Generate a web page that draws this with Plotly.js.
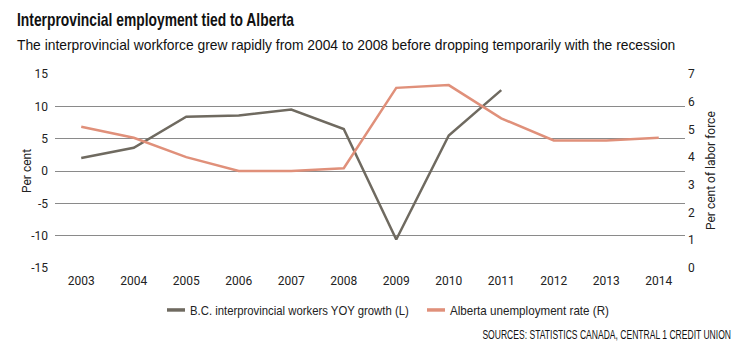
<!DOCTYPE html>
<html>
<head>
<meta charset="utf-8">
<script src="https://cdn.plot.ly/plotly-3.0.1.min.js"></script>
<style>
html,body{margin:0;padding:0;background:#fff;}
#chart{width:737px;height:344px;}
</style>
</head>
<body>
<div id="chart"></div>
<script>
const years = ["2003","2004","2005","2006","2007","2008","2009","2010","2011","2012","2013","2014"];
const bcGrowthYears = ["2003","2004","2005","2006","2007","2008","2009","2010","2011"];
const bcGrowth = [2.0, 3.6, 8.4, 8.6, 9.5, 6.5, -10.6, 5.5, 12.5];
const abUnemployment = [5.1, 4.7, 4.0, 3.5, 3.5, 3.6, 6.5, 6.6, 5.4, 4.6, 4.6, 4.7];
const leftTicks = [-15, -10, -5, 0, 5, 10, 15];
const rightTicks = [0, 1, 2, 3, 4, 5, 6, 7];

const narrow = '"Liberation Sans", Arial, sans-serif';
const tickFont = {family: 'Roboto, "DejaVu Sans", sans-serif', size: 12, color: '#222'};

const traces = [
  {
    x: bcGrowthYears, y: bcGrowth, type: 'scatter', mode: 'lines',
    name: 'B.C. interprovincial workers YOY growth (L)',
    line: {color: '#6f6a60', width: 2.5}, yaxis: 'y'
  },
  {
    x: years, y: abUnemployment, type: 'scatter', mode: 'lines',
    name: 'Alberta unemployment rate (R)',
    line: {color: '#e0907a', width: 2.5}, yaxis: 'y2'
  }
];

const pw = 737 - 55 - 52, ph = 344 - 74 - 76;
function px(x){ return (x - 55) / pw; }
function py(y){ return (344 - 76 - y) / ph; }

const layout = {
  width: 737, height: 344,
  margin: {l: 55, r: 52, t: 74, b: 76},
  paper_bgcolor: '#fff', plot_bgcolor: '#fff',
  showlegend: true,
  legend: {
    orientation: 'h', x: px(150), xanchor: 'left', y: py(295), yanchor: 'top',
    font: {family: narrow, size: 13, color: '#222'}, traceorder: 'normal'
  },
  xaxis: {
    type: 'category', categoryorder: 'array', categoryarray: years,
    range: [-0.5, 11.5], showgrid: false, zeroline: false, showline: false,
    ticks: '', tickfont: tickFont, ticklabelstandoff: 4
  },
  yaxis: {
    range: [-15, 15], tickvals: leftTicks, ticktext: leftTicks.map(String),
    showgrid: true, gridcolor: '#8a8a8a', gridwidth: 1, zeroline: false,
    ticks: '', tickfont: tickFont, ticklabelstandoff: 6
  },
  yaxis2: {
    overlaying: 'y', side: 'right', range: [0, 7],
    tickvals: rightTicks, ticktext: rightTicks.map(String),
    showgrid: false, zeroline: false, ticks: '', tickfont: tickFont, ticklabelstandoff: 2
  },
  annotations: [
    {text: '<b>Interprovincial employment tied to Alberta</b>', xref: 'paper', yref: 'paper',
     x: px(17), y: py(20), xanchor: 'left', yanchor: 'middle', showarrow: false,
     font: {family: narrow, size: 18, color: '#111'}},
    {text: 'The interprovincial workforce grew rapidly from 2004 to 2008 before dropping temporarily with the recession',
     xref: 'paper', yref: 'paper', x: px(17), y: py(45), xanchor: 'left', yanchor: 'middle', showarrow: false,
     font: {family: narrow, size: 14.5, color: '#111'}},
    {text: 'SOURCES: STATISTICS CANADA, CENTRAL 1 CREDIT UNION', xref: 'paper', yref: 'paper',
     x: px(731), y: py(335), xanchor: 'right', yanchor: 'middle', showarrow: false,
     font: {family: narrow, size: 12, color: '#111'}},
    {text: 'Per cent', xref: 'paper', yref: 'paper', x: px(27), y: py(171), xanchor: 'center', yanchor: 'middle',
     textangle: -90, showarrow: false, font: {family: 'Roboto, sans-serif', size: 12, color: '#222'}},
    {text: 'Per cent of labor force', xref: 'paper', yref: 'paper', x: px(711), y: py(171), xanchor: 'center', yanchor: 'middle',
     textangle: -90, showarrow: false, font: {family: 'Roboto, sans-serif', size: 12, color: '#222'}}
  ]
};

// Condensed display widths (px) of the original's condensed typeface
const headingFit = [{w: 278, left: 17}, {w: 659, left: 17}, {w: 249, right: 731}];
const legendFit = [{w: 219, textLeft: 190}, {w: 159, textLeft: 450}];

// Horizontally condense a text element to width w, then move it to a target edge
function condense(t, w, target){
  const r0 = t.getBoundingClientRect();
  const s = w / r0.width;
  const base = t.getAttribute('transform') || '';
  t.setAttribute('transform', 'scale(' + s + ',1) ' + base);
  const r = t.getBoundingClientRect();
  const dx = (target.left !== undefined) ? (target.left - r.left) : (target.right - r.right);
  t.setAttribute('transform', 'translate(' + dx + ',0) scale(' + s + ',1) ' + base);
}

Plotly.newPlot('chart', traces, layout, {displayModeBar: false, staticPlot: true}).then(function(gd){
  const ann = gd.querySelectorAll('.annotation');
  headingFit.forEach(function(f, i){
    const t = ann[i] && ann[i].querySelector('text.annotation-text');
    if (t) condense(t, f.w, f);
  });
  const groups = gd.querySelectorAll('.legend .traces');
  groups.forEach(function(g, i){
    const f = legendFit[i];
    if (!f) return;
    const t = g.querySelector('.legendtext');
    const line = g.querySelector('.legendlines path');
    const rt = t.getBoundingClientRect();
    const base = g.getAttribute('transform') || '';
    g.setAttribute('transform', 'translate(' + (f.textLeft - rt.left) + ',0) ' + base);
    if (t) condense(t, f.w, {left: f.textLeft});
    if (line) { line.setAttribute('d', 'M17,0h18'); line.style.strokeWidth = '3.5px'; }
  });
});
</script>
</body>
</html>
